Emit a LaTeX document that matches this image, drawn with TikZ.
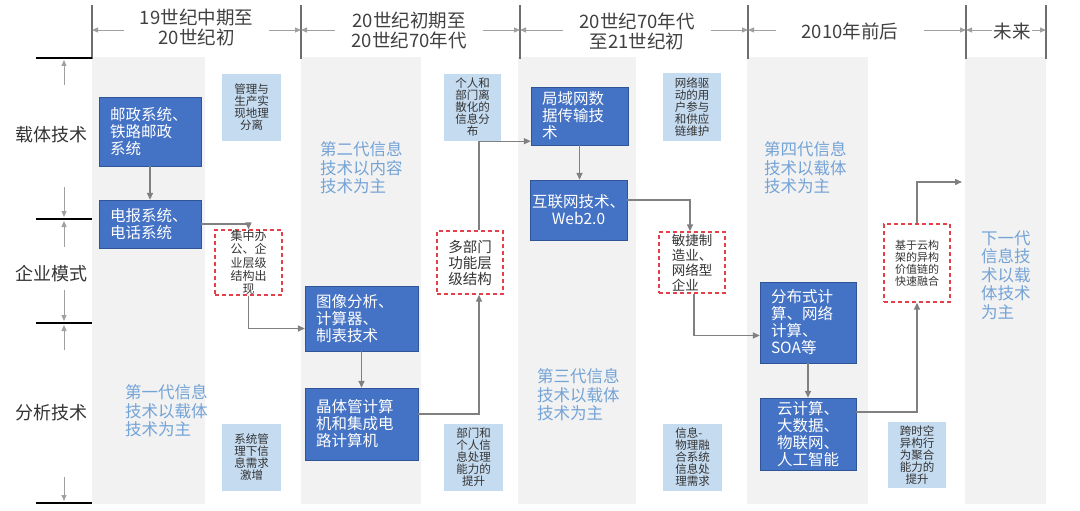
\documentclass[tikz,border=0pt]{standalone}
\usepackage{fontspec}
\setmainfont{Noto Sans CJK SC}
\usepackage{tikz}
\usetikzlibrary{arrows.meta,calc,positioning}
\definecolor{colgray}{RGB}{242,242,242}
\definecolor{divgray}{RGB}{110,110,110}
\definecolor{dimgray}{RGB}{160,160,160}
\definecolor{arrowgray}{RGB}{128,128,128}
\definecolor{techfill}{RGB}{68,114,196}
\definecolor{techedge}{RGB}{47,85,151}
\definecolor{notefill}{RGB}{197,219,240}
\definecolor{modered}{RGB}{228,64,74}
\definecolor{genblue}{RGB}{116,163,214}
\tikzset{%
	colfill/.style     = {fill=colgray, draw=none}, % period column
	divider/.style     = {draw=divgray, line width=1.5pt},
	axisline/.style    = {draw=black, line width=1.5pt},
	dimarrow/.style    = {draw=dimgray, line width=0.9pt, -{Triangle[length=6pt,width=5pt]}},
	arrow/.style       = {draw=arrowgray, line width=1.4pt, -{Triangle[length=7pt,width=6pt]}},
}
\tikzset{%
	periodlabel/.style = {font=\fontsize{18.5}{20}\selectfont, text=black!75, align=center, inner xsep=16pt, inner ysep=0pt},
	rowlabel/.style    = {font=\fontsize{18}{20}\selectfont, text=black!80, inner sep=0pt},
	techbox/.style     = {draw=techedge, fill=techfill, text=white, font=\fontsize{15.5}{17}\selectfont, align=left, inner xsep=11pt, inner ysep=0pt},
	notebox/.style     = {fill=notefill, text=black!80, font=\fontsize{11.5}{12}\selectfont, align=center, inner sep=0pt},
	modebox/.style     = {draw=modered, line width=1.4pt, dash pattern=on 4pt off 3pt, text=black!80, align=center, inner sep=0pt},
	genlabel/.style    = {text=genblue, font=\fontsize{16.5}{18.5}\selectfont, align=left, anchor=west, inner sep=0pt},
}
\begin{document}
\begin{tikzpicture}[x=1pt, y=-1pt]
	\useasboundingbox (0,0) rectangle (1080,511);

	% period columns and dividers
	\foreach \xa/\xb in {92/205, 301/421, 518/636, 747/868, 965/1046}
		\fill[colfill] (\xa,57) rectangle (\xb,504);
	\foreach \x/\n in {92/1, 301/2, 520/3, 748/4, 966/5, 1046/6}
		\draw[divider] (\x,59) -- (\x,5) coordinate (d\n);
	\coordinate (hl) at (0,30);

	% left axis
	\foreach \y in {58, 219, 323, 503}
		\draw[axisline] (36,\y) -- (92,\y);
	\foreach \ya/\yb in {85/60, 187/217, 247/221, 290/321, 350/325, 477/501}
		\draw[dimarrow] (64,\ya) -- (64,\yb);
	\node[rowlabel] (rcarrier) at (52,135) {载体技术};
	\node[rowlabel] (renterprise) at (52,274) {企业模式};
	\node[rowlabel] (ranalysis) at (52,413) {分析技术};

	% periods
	\node[periodlabel] (h1) at (196.5,27) {19世纪中期至\\20世纪初};
	\node[periodlabel] (h2) at (409,30) {20世纪初期至\\20世纪70年代};
	\node[periodlabel] (h3) at (637,31) {20世纪70年代\\至21世纪初};
	\node[periodlabel, inner xsep=26pt] (h4) at (850,31) {2010年前后};
	\node[periodlabel, inner xsep=1pt] (h5) at (1012,31) {未来};
	\foreach \h/\l/\r in {h1/d1/d2, h2/d2/d3, h3/d3/d4, h4/d4/d5, h5/d5/d6} {
		\draw[dimarrow] (\h.west |- hl) -- (\l |- hl);
		\draw[dimarrow] (\h.east |- hl) -- (\r |- hl);
	}

	% carrier and analysis technologies
	\node[techbox, text width=80pt, minimum height=69pt] (post) at (150,131.5) {邮政系统、\\铁路邮政\\系统};
	\node[techbox, text width=80pt, minimum height=48pt] (tele) at (150,224) {电报系统、\\电话系统};
	\node[techbox, text width=91pt, minimum height=65pt] (image) at (361.5,318.5) {图像分析、\\计算器、\\制表技术};
	\node[techbox, text width=91pt, minimum height=72pt] (chip) at (361.5,424) {晶体管计算\\机和集成电\\路计算机};
	\node[techbox, text width=75pt, minimum height=58pt] (lan) at (579.5,116) {局域网数\\据传输技\\术};
	\node[techbox, text width=93pt, inner xsep=2pt, align=center, minimum height=60pt] (web) at (578.5,210) {互联网技术、\\Web2.0};
	\node[techbox, text width=74pt, minimum height=81pt] (dist) at (808,322.5) {分布式计\\算、网络\\计算、\\SOA等};
	\node[techbox, text width=74pt, align=center, minimum height=72pt] (cloud) at (808,434) {云计算、\\大数据、\\物联网、\\人工智能};

	% drivers
	\node[notebox, minimum width=59pt, minimum height=67pt] (separate) at (251.5,107.5) {管理与\\生产实\\现地理\\分离};
	\node[notebox, minimum width=59pt, minimum height=67pt] (demand) at (251.5,457.5) {系统管\\理下信\\息需求\\激增};
	\node[notebox, minimum width=57pt, minimum height=67pt] (scatter) at (472.5,107.5) {个人和\\部门离\\散化的\\信息分\\布};
	\node[notebox, minimum width=59pt, minimum height=67pt] (capacity) at (473.5,457.5) {部门和\\个人信\\息处理\\能力的\\提升};
	\node[notebox, minimum width=58pt, minimum height=68pt] (userdrive) at (692,107) {网络驱\\动的用\\户参与\\和供应\\链维护};
	\node[notebox, align=left, minimum width=59pt, minimum height=67pt] (cps) at (692.5,457.5) {信息-\\物理融\\合系统\\信息处\\理需求};
	\node[notebox, minimum width=58pt, minimum height=66pt] (aggregate) at (917,455) {跨时空\\异构行\\为聚合\\能力的\\提升};

	% enterprise modes
	\node[modebox, minimum width=67pt, minimum height=63pt, font=\fontsize{12}{13.4}\selectfont] (central) at (248.5,262.5) {集中办\\公、企\\业层级\\结构出\\现};
	\node[modebox, minimum width=66pt, minimum height=63pt, font=\fontsize{14.5}{16}\selectfont] (multi) at (470,262.5) {多部门\\功能层\\级结构};
	\node[modebox, align=left, minimum width=66pt, minimum height=61pt, font=\fontsize{13.5}{14.8}\selectfont] (agile) at (692,262.5) {敏捷制\\造业、\\网络型\\企业};
	\node[modebox, minimum width=66pt, minimum height=78pt, font=\fontsize{11}{12}\selectfont] (fusion) at (917,263) {基于云构\\架的异构\\价值链的\\快速融合};

	% generations
	\node[genlabel] (gen1) at (125,411) {第一代信息\\技术以载体\\技术为主};
	\node[genlabel] (gen2) at (320,168) {第二代信息\\技术以内容\\技术为主};
	\node[genlabel] (gen3) at (537,395) {第三代信息\\技术以载体\\技术为主};
	\node[genlabel] (gen4) at (764,168) {第四代信息\\技术以载体\\技术为主};
	\node[genlabel] (gen5) at (981,275) {下一代\\信息技\\术以载\\体技术\\为主};

	\coordinate (nextgen) at (962,182);

	\draw[arrow] (post) -- (tele);
	\draw[arrow] (tele.east) -| (central.north);
	\draw[arrow] (central.south) |- ([yshift=-10pt]image.west);
	\draw[arrow] (image) -- (chip);
	\draw[arrow] ([yshift=10pt]chip.east) -| ([xshift=9pt]multi.south);
	\draw[arrow] ([xshift=9pt]multi.north) |- ([yshift=4pt]lan.south west);
	\draw[arrow] (lan.south) -- (lan.south |- web.north);
	\draw[arrow] ([yshift=10pt]web.east) -| ([xshift=-2pt]agile.north);
	\draw[arrow] ([xshift=2pt]agile.south) |- ([yshift=-13pt]dist.west);
	\draw[arrow] (dist) -- (cloud);
	\draw[arrow] ([yshift=22pt]cloud.east) -| (fusion.south);
	\draw[arrow] (fusion.north) |- (nextgen);
\end{tikzpicture}
\end{document}
